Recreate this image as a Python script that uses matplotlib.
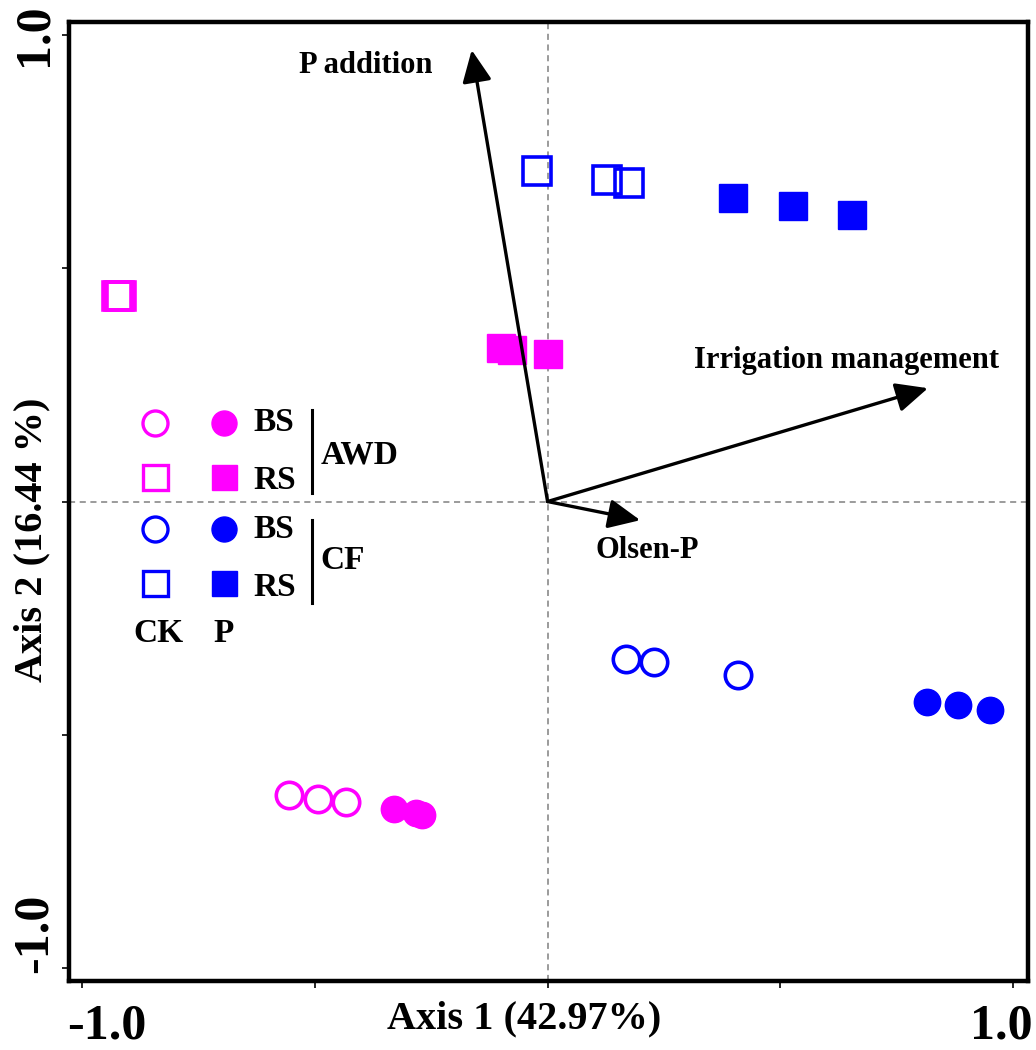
import matplotlib
matplotlib.use("Agg")
import matplotlib.pyplot as plt
from matplotlib.transforms import ScaledTranslation

plt.rcParams['font.family'] = ['Liberation Serif', 'DejaVu Serif']
plt.rcParams['font.weight'] = 'bold'
plt.rcParams['axes.labelweight'] = 'bold'

MAG = '#FF00FF'
BLU = '#0000FF'

# sample scores (Axis 1, Axis 2)
awd_bs_ck_x = [-0.555, -0.493, -0.433]
awd_bs_ck_y = [-0.629, -0.638, -0.645]
awd_bs_p_x = [-0.330, -0.283, -0.270]
awd_bs_p_y = [-0.660, -0.667, -0.671]
awd_rs_ck_x = [-0.924, -0.920, -0.916]
awd_rs_ck_y = [0.440, 0.440, 0.440]
awd_rs_p_x = [-0.100, -0.076, 0.001]
awd_rs_p_y = [0.329, 0.325, 0.316]
cf_bs_ck_x = [0.169, 0.229, 0.409]
cf_bs_ck_y = [-0.338, -0.344, -0.372]
cf_bs_p_x = [0.815, 0.882, 0.951]
cf_bs_p_y = [-0.430, -0.436, -0.447]
cf_rs_ck_x = [-0.023, 0.128, 0.175]
cf_rs_ck_y = [0.708, 0.689, 0.683]
cf_rs_p_x = [0.398, 0.527, 0.654]
cf_rs_p_y = [0.651, 0.633, 0.614]

# environmental vectors
vec_names = ['P addition', 'Irrigation management', 'Olsen-P']
vec_x = [-0.163, 0.817, 0.199]
vec_y = [0.968, 0.243, -0.040]

fig = plt.figure(figsize=(10.36, 10.5), dpi=100)
ax = fig.add_axes([0.0666, 0.0657, 0.9257, 0.9133])
ax.set_xlim(-1.028, 1.032)
ax.set_ylim(-1.028, 1.028)

ax.axhline(0, color='#808080', ls=(0, (4, 3)), lw=1.1, zorder=1)
ax.axvline(0, color='#808080', ls=(0, (4, 3)), lw=1.1, zorder=1)

ms_sq, ms_ci = 20, 19
ax.plot(awd_bs_ck_x, awd_bs_ck_y, 'o', ms=ms_ci, mfc='white', mec=MAG, mew=2.6, ls='none', zorder=3)
ax.plot(awd_bs_p_x, awd_bs_p_y, 'o', ms=ms_ci, color=MAG, ls='none', zorder=3)
ax.plot(awd_rs_ck_x, awd_rs_ck_y, 's', ms=ms_sq, mfc='none', mec=MAG, mew=2.6, ls='none', zorder=3)
ax.plot(awd_rs_p_x, awd_rs_p_y, 's', ms=ms_sq, color=MAG, ls='none', zorder=3)
ax.plot(cf_bs_ck_x, cf_bs_ck_y, 'o', ms=ms_ci, mfc='white', mec=BLU, mew=2.6, ls='none', zorder=3)
ax.plot(cf_bs_p_x, cf_bs_p_y, 'o', ms=ms_ci, color=BLU, ls='none', zorder=3)
ax.plot(cf_rs_ck_x, cf_rs_ck_y, 's', ms=ms_sq, mfc='none', mec=BLU, mew=2.6, ls='none', zorder=3)
ax.plot(cf_rs_p_x, cf_rs_p_y, 's', ms=ms_sq, color=BLU, ls='none', zorder=3)

for vx, vy in zip(vec_x, vec_y):
    ax.annotate('', xy=(vx, vy), xytext=(0, 0),
                arrowprops=dict(arrowstyle='-|>,head_length=0.65,head_width=0.3',
                                mutation_scale=30, color='black', lw=2.4,
                                shrinkA=0, shrinkB=0), zorder=4)

ax.text(-0.39, 0.935, vec_names[0], fontsize=22, ha='center', va='center')
ax.text(0.642, 0.302, vec_names[1], fontsize=22, ha='center', va='center')
ax.text(0.215, -0.105, vec_names[2], fontsize=22, ha='center', va='center')

# legend drawn by hand
T = ax.transAxes
lx = [0.0897, 0.1616]
rows = [0.582, 0.5255, 0.471, 0.415]
lg = [('o', MAG), ('s', MAG), ('o', BLU), ('s', BLU)]
for (m, c), ry in zip(lg, rows):
    ax.plot(lx[0], ry, m, ms=18, mfc='white', mec=c, mew=2.4, transform=T, clip_on=False)
    ax.plot(lx[1], ry, m, ms=18, color=c, transform=T, clip_on=False)
for txt, ry in zip(['BS', 'RS', 'BS', 'RS'], [0.582, 0.522, 0.471, 0.41]):
    ax.text(0.192, ry, txt, fontsize=24, ha='left', va='center', transform=T)
ax.plot([0.2534, 0.2534], [0.509, 0.595], color='black', lw=2.2, transform=T)
ax.plot([0.2534, 0.2534], [0.394, 0.481], color='black', lw=2.2, transform=T)
ax.text(0.262, 0.5485, 'AWD', fontsize=24, ha='left', va='center', transform=T)
ax.text(0.262, 0.439, 'CF', fontsize=24, ha='left', va='center', transform=T)
ax.text(0.0928, 0.362, 'CK', fontsize=24, ha='center', va='center', transform=T)
ax.text(0.1616, 0.362, 'P', fontsize=24, ha='center', va='center', transform=T)

ax.set_xticks([-1, -0.5, 0, 0.5, 1])
ax.set_xticklabels(['-1.0', '', '', '', '1.0'])
ax.set_yticks([-1, -0.5, 0, 0.5, 1])
ax.set_yticklabels(['-1.0', '', '', '', '1.0'], rotation=90, va='center')
ax.tick_params(direction='out', length=5, width=1.2, labelsize=36)
ax.tick_params(axis='x', pad=11)
ax.tick_params(axis='y', pad=3)

xl = ax.get_xticklabels()
xl[0].set_transform(xl[0].get_transform() + ScaledTranslation(0.25, 0, fig.dpi_scale_trans))
xl[-1].set_transform(xl[-1].get_transform() + ScaledTranslation(-0.12, 0, fig.dpi_scale_trans))
yl = ax.get_yticklabels()
yl[0].set_transform(yl[0].get_transform() + ScaledTranslation(0, 0.35, fig.dpi_scale_trans))

ax.set_xlabel('Axis 1 (42.97%)', fontsize=29, va='center')
ax.xaxis.set_label_coords(0.4745, -0.039)
ax.set_ylabel('Axis 2 (16.44 %)', fontsize=29, va='center')
ax.yaxis.set_label_coords(-0.039, 0.46)

for s in ax.spines.values():
    s.set_linewidth(3.2)

fig.savefig('out.png', dpi=100)
